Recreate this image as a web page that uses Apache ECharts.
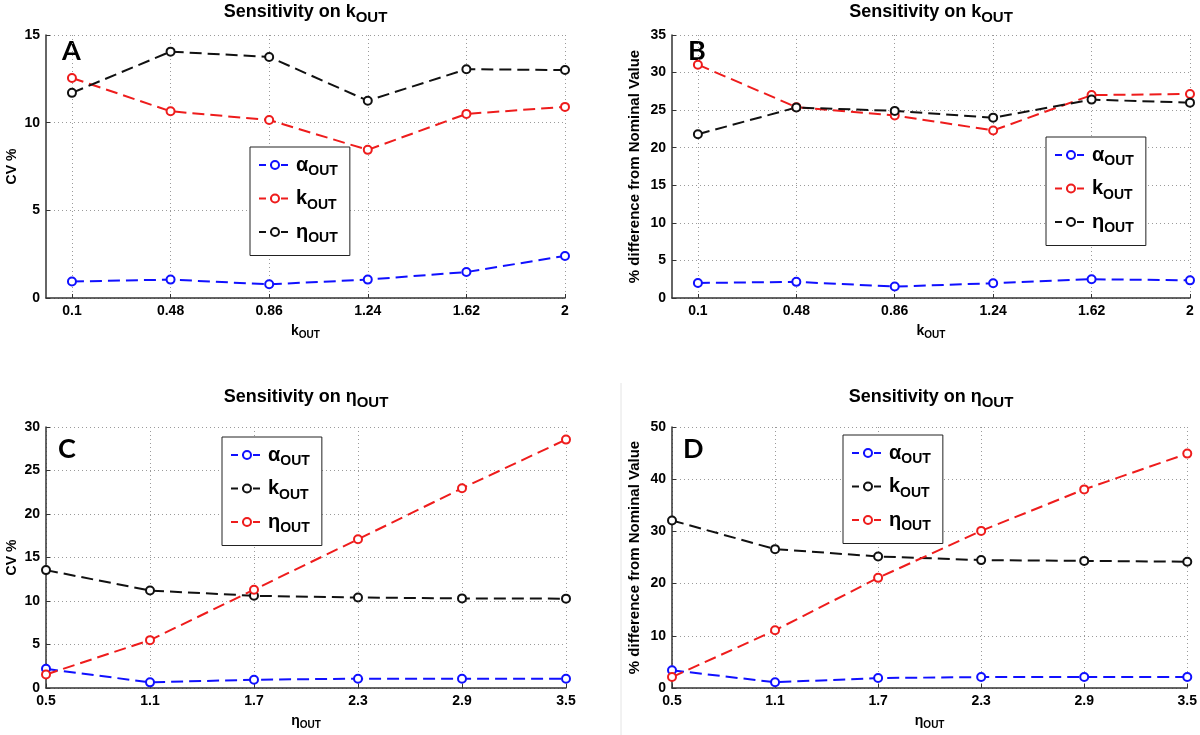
<!DOCTYPE html>
<html><head><meta charset="utf-8">
<script src="https://cdn.jsdelivr.net/npm/echarts@6/dist/echarts.min.js"></script>
<style>html,body{margin:0;padding:0;background:#fff}#c{width:1200px;height:735px}</style>
</head><body><div id="c"></div>
<script>
// ---- data ----
const kOutTicks = [0.1, 0.48, 0.86, 1.24, 1.62, 2];
const etaOutTicks = [0.5, 1.1, 1.7, 2.3, 2.9, 3.5];

const A_alpha = [0.94, 1.05, 0.78, 1.05, 1.48, 2.4];
const A_k     = [12.55, 10.65, 10.15, 8.45, 10.5, 10.9];
const A_eta   = [11.7, 14.05, 13.75, 11.25, 13.05, 13.0];

const B_alpha = [2.0, 2.15, 1.52, 1.97, 2.5, 2.35];
const B_k     = [31.05, 25.4, 24.3, 22.3, 27.0, 27.15];
const B_eta   = [21.8, 25.35, 24.9, 24.0, 26.4, 26.0];

const C_alpha = [2.2, 0.65, 0.95, 1.07, 1.07, 1.07];
const C_k     = [13.55, 11.2, 10.6, 10.4, 10.3, 10.27];
const C_eta   = [1.55, 5.5, 11.3, 17.1, 22.95, 28.55];

const D_alpha = [3.4, 1.1, 1.9, 2.1, 2.1, 2.1];
const D_k     = [32.1, 26.6, 25.2, 24.5, 24.35, 24.2];
const D_eta   = [2.1, 11.05, 21.1, 30.1, 38.05, 44.9];

const panelLetters = ['A', 'B', 'C', 'D'];
const yNames = ['CV %', '% difference from Nominal Value', 'CV %', '% difference from Nominal Value'];
const yMax = [15, 35, 30, 50];
const yStep = [5, 5, 5, 10];
const titleSym = ['k', 'k', 'η', 'η'];

// ---- styling ----
const BLUE = '#1010ff', RED = '#ee1c1c', BLACK = '#111111';
const FONT = '"Liberation Sans", Arial, sans-serif';
const grids = [
  {left: 46, top: 35, width: 519, height: 263},
  {left: 672, top: 35, width: 518, height: 263},
  {left: 46, top: 427, width: 520, height: 261},
  {left: 672, top: 427, width: 518, height: 261}
];
const legendPos = [
  {left: 250, top: 147},
  {left: 1046, top: 137},
  {left: 222, top: 437},
  {left: 843, top: 435}
];
const panels = [
  {ticks: kOutTicks, min: 0, max: 2, order: [['α', A_alpha, BLUE], ['k', A_k, RED], ['η', A_eta, BLACK]]},
  {ticks: kOutTicks, min: 0, max: 2, order: [['α', B_alpha, BLUE], ['k', B_k, RED], ['η', B_eta, BLACK]]},
  {ticks: etaOutTicks, min: 0.5, max: 3.5, order: [['α', C_alpha, BLUE], ['k', C_k, BLACK], ['η', C_eta, RED]]},
  {ticks: etaOutTicks, min: 0.5, max: 3.5, order: [['α', D_alpha, BLUE], ['k', D_k, BLACK], ['η', D_eta, RED]]}
];

const subRich = {
  m: {fontFamily: FONT, fontSize: 20, fontWeight: 'bold', color: '#000'},
  s: {fontFamily: FONT, fontSize: 14, fontWeight: 'bold', color: '#000', padding: [13, 0, 0, 0]}
};

const gridLine = {show: true, lineStyle: {color: '#9a9a9a', width: 1, type: [1, 3]}};
const axisLineStyle = {show: true, lineStyle: {color: '#333', width: 1.5}};

const xAxis = [], yAxis = [], series = [], legend = [], title = [];
panels.forEach((p, i) => {
  xAxis.push({
    gridIndex: i, type: 'value', min: p.min, max: p.max,
    axisLine: axisLineStyle,
    axisTick: {show: true, inside: true, length: 4, customValues: p.ticks, lineStyle: {color: '#333'}},
    axisLabel: {customValues: p.ticks, color: '#000', fontFamily: FONT, fontSize: 14, fontWeight: 'bold', margin: 6,
      formatter: v => String(+v.toFixed(2))},
    splitLine: gridLine,
    name: '{m|' + titleSym[i] + '}{s|OUT}', nameLocation: 'middle', nameGap: 24,
    nameTextStyle: {rich: {
      m: {fontFamily: FONT, fontSize: 14, fontWeight: 'bold', color: '#000'},
      s: {fontFamily: FONT, fontSize: 10, fontWeight: 'bold', color: '#000', padding: [8, 0, 0, 0]}
    }}
  });
  yAxis.push({
    gridIndex: i, type: 'value', min: 0, max: yMax[i], interval: yStep[i],
    axisLine: axisLineStyle,
    axisTick: {show: true, inside: true, length: 4, lineStyle: {color: '#333'}},
    axisLabel: {color: '#000', fontFamily: FONT, fontSize: 14, fontWeight: 'bold', margin: 6},
    splitLine: gridLine,
    name: yNames[i], nameLocation: 'middle', nameGap: i % 2 ? 30 : 27,
    nameTextStyle: {fontFamily: FONT, fontSize: i % 2 ? 15 : 14, fontWeight: 'bold', color: '#000'}
  });
  const names = [];
  p.order.forEach(([sym, vals, col]) => {
    const nm = sym + '|' + i;
    names.push(nm);
    series.push({
      name: nm, type: 'line', xAxisIndex: i, yAxisIndex: i,
      data: p.ticks.map((x, j) => [x, vals[j]]),
      symbol: 'emptyCircle', symbolSize: 8,
      itemStyle: {color: col, borderColor: col, borderWidth: 1.3},
      lineStyle: {color: col, width: 2, type: [12, 6]},
      emphasis: {disabled: true}, animation: false
    });
  });
  legend.push({
    data: names, orient: 'vertical', left: legendPos[i].left, top: legendPos[i].top,
    backgroundColor: '#fff', borderColor: '#222', borderWidth: 1, borderRadius: 0,
    padding: [8, 12, 10, 8], itemGap: 10, itemWidth: 32, itemHeight: 10,
    selectedMode: false,
    lineStyle: {type: [7, 4], width: 2},
    formatter: n => '{m|' + n.split('|')[0] + '}{s|OUT}',
    textStyle: {rich: subRich}
  });
  const g = grids[i];
  title.push({
    text: '{t|Sensitivity on ' + titleSym[i] + '}{s|OUT}',
    left: g.left + g.width / 2, textAlign: 'center',
    top: i < 2 ? 0 : 385, padding: 0,
    textStyle: {rich: {
      t: {fontFamily: FONT, fontSize: 18, fontWeight: 'bold', color: '#000'},
      s: {fontFamily: FONT, fontSize: 15, fontWeight: 'bold', color: '#000', padding: [10, 0, 0, 0]}
    }}
  });
});

const letterPos = [[62, 38], [688, 38], [58, 436], [683, 436]];
const graphic = panelLetters.map((L, i) => ({
  type: 'text', left: letterPos[i][0], top: letterPos[i][1],
  style: {text: L, font: 'bold 27px Lato, "Open Sans", sans-serif', fill: '#000'}
}));
graphic.push({type: 'line', shape: {x1: 621, y1: 383, x2: 621, y2: 735}, style: {stroke: '#e4e4e4', lineWidth: 1}});

const chart = echarts.init(document.getElementById('c'), null, {renderer: 'canvas'});
chart.setOption({
  animation: false, backgroundColor: '#fff',
  grid: grids, xAxis, yAxis, series, legend, title, graphic
});
</script></body></html>
